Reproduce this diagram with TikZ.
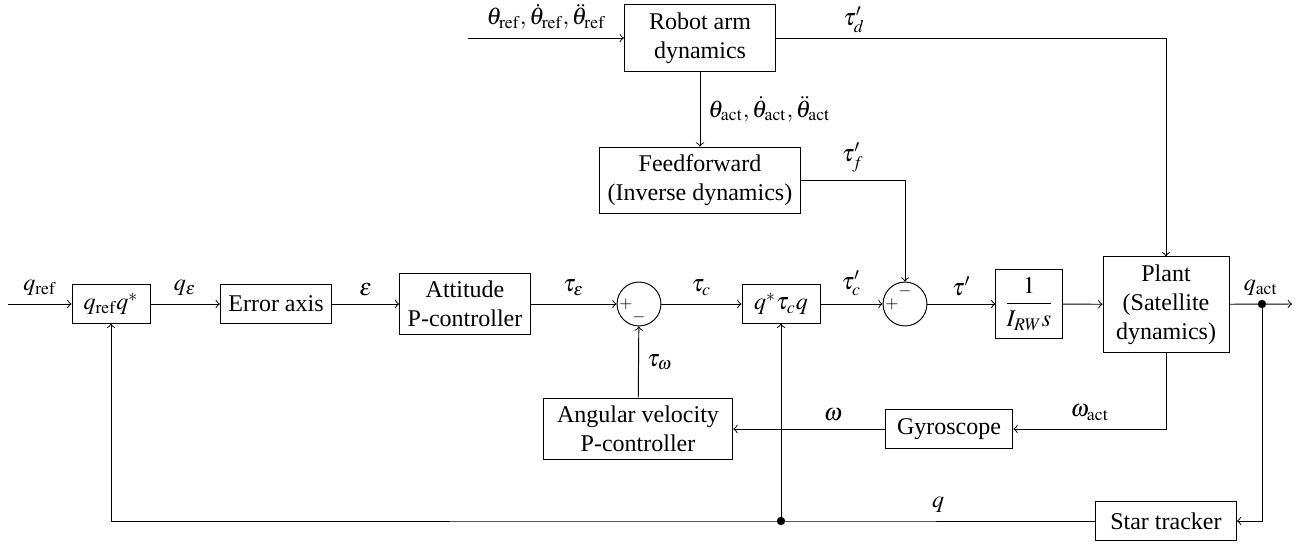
\documentclass[tikz,border=0pt]{standalone}
\usepackage{amsmath}
\usepackage{mathptmx}
\usepackage{fontspec}
\setmainfont{Liberation Serif}

\tikzset{
  block/.style={draw, rectangle, align=center, minimum height=16pt},
  sumnode/.style={draw, circle, minimum size=18.3pt, inner sep=0pt},
  junction/.style={circle, fill, inner sep=0pt, minimum size=3.5pt}
}

\begin{document}
\begin{tikzpicture}[x=0.4167pt,y=-0.4167pt,>=to,thin]
        \useasboundingbox (0,0) rectangle (1307,544);
        % main loop
        \coordinate (qin) at (8,304);
        \node (mult1) [block, minimum width=32.5pt] at (111,304) {$q_{\mathrm{ref}}q^*$};
        \node (err) [block] at (276,304) {Error axis};
        \node (att) [block] at (465,304) {Attitude\\P-controller};
        \node (sum1) [sumnode] at (639,304) {};
        \node (mult2) [block, minimum width=32.5pt] at (781,304) {$q^*\tau_c q$};
        \node (sum2) [sumnode] at (905,304) {};
        \node (wheel) [block] at (1029,304) {$\dfrac{1}{I_{RW}s}$};
        \node (plant) [block, minimum width=52.5pt] at (1166,304.5) {Plant\\(Satellite\\dynamics)};
        \node (qact) [junction] at (1262,304) {};
        \coordinate (qout) at (1292,304);
        % robot arm
        \coordinate (thref) at (468,38);
        \node (robot) [block, minimum width=63pt] at (700,38) {Robot arm\\dynamics};
        \node (ff) [block] at (700,180.5) {Feedforward\\(Inverse dynamics)};
        % feedback
        \node (angvel) [block, minimum width=79pt] at (638,429) {Angular velocity\\P-controller};
        \node (gyro) [block, minimum width=53.3pt] at (949,429) {Gyroscope};
        \node (star) [block, anchor=west, minimum width=58.7pt] at (1095,521) {Star tracker};
        \node (qmeas) [junction] at (781,521) {};

        % signs
        \node (s1p) [font=\scriptsize] at (626,304) {$+$};
        \node (s1m) [font=\scriptsize] at (639,317) {$-$};
        \node (s2p) [font=\scriptsize] at (892,304) {$+$};
        \node (s2m) [font=\scriptsize] at (905,291) {$-$};

        \draw[->] (qin) -- node[above] {$q_{\mathrm{ref}}$} (mult1);
        \draw[->] (mult1) -- node[above] {$q_\varepsilon$} (err);
        \draw[->] (err) -- node[above] {$\varepsilon$} (att);
        \draw[->] (att) -- node[above] {$\tau_\varepsilon$} (sum1);
        \draw[->] (sum1) -- node[above] {$\tau_c$} (mult2);
        \draw[->] (mult2) -- node[above] {$\tau'_c$} (sum2);
        \draw[->] (sum2) -- node[above] {$\tau'$} (wheel);
        \draw[->] (wheel) -- (plant);
        \draw[->] (plant) -- node[above] {$q_{\mathrm{act}}$} (qout);

        \draw[->] (qact.center) |- (star);
        \draw[->] (star) -- node[above] {$q$} (qmeas.center) -| (mult1);
        \draw[->] (qmeas.center) -- (mult2);
        \draw[->] (plant) |- node[above, pos=0.75] {$\omega_{\mathrm{act}}$} (gyro);
        \draw[->] (gyro) -- node[above, pos=0.34] {$\omega$} (angvel);
        \draw[->] (angvel) -- node[right] {$\tau_\omega$} (sum1);

        \draw[->] (thref) -- node[above] {$\theta_{\mathrm{ref}},\dot{\theta}_{\mathrm{ref}},\ddot{\theta}_{\mathrm{ref}}$} (robot);
        \draw[->] (robot) -- node[right] {$\theta_{\mathrm{act}},\dot{\theta}_{\mathrm{act}},\ddot{\theta}_{\mathrm{act}}$} (ff);
        \draw[->] (robot) -| node[above, pos=0.1, inner sep=2pt] {$\tau'_d$} (plant);
        \draw[->] (ff) -| node[above, pos=0.25] {$\tau'_f$} (sum2);
    \end{tikzpicture}
\end{document}
